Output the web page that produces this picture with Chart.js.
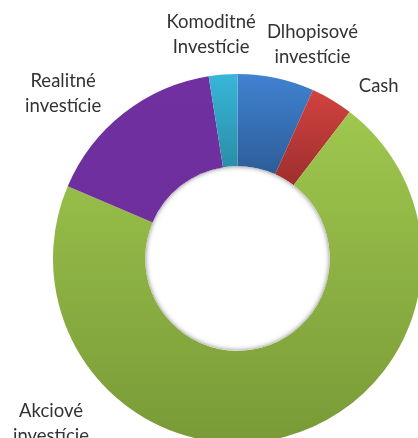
<!DOCTYPE html>
<html>
<head>
<meta charset="utf-8">
<script src="https://cdn.jsdelivr.net/npm/chart.js@4/dist/chart.umd.min.js"></script>
<style>
    html, body { margin: 0; padding: 0; background: #fff; overflow: hidden; width: 418px; height: 438px; }
    #chart { position: absolute; left: 0; top: 0; }
</style>
</head>
<body>
<canvas id="chart" width="480" height="480"></canvas>
<script>
// Portfolio split, read clockwise from 12 o'clock
const labels = [
    ['Dlhopisové', 'investície'],
    ['Cash'],
    ['Akciové', 'investície'],
    ['Realitné', 'investície'],
    ['Komoditné', 'Investície']
];
const shares = [6.7, 3.7, 71.0, 16.1, 2.5];

// light / dark ends of the vertical shading for each slice
const lightColors = ['#4182d2', '#d2423f', '#9fc74e', '#7030a0', '#38b6d9'];
const darkColors  = ['#2d5d98', '#9c2f2e', '#799a37', '#6e2f9d', '#2a8ea7'];

// label anchor: angle in degrees from 12 o'clock, distance from centre in px
const labelAngle  = [19.3, 39.3, 228.5, -46.6, -6.7];
const labelRadius = [227, 223, 249, 240, 226];

function arcYRange(arc) {
    let minY = Infinity, maxY = -Infinity;
    for (let i = 0; i <= 40; i++) {
        const a = arc.startAngle + (arc.endAngle - arc.startAngle) * i / 40;
        [arc.innerRadius, arc.outerRadius].forEach(r => {
            const y = arc.y + Math.sin(a) * r;
            minY = Math.min(minY, y);
            maxY = Math.max(maxY, y);
        });
    }
    return [minY, maxY];
}

const shadingPlugin = {
    id: 'shading',
    beforeDatasetsDraw(chart) {
        const ctx = chart.ctx;
        chart.getDatasetMeta(0).data.forEach((arc, i) => {
            const [y0, y1] = arcYRange(arc);
            const g = ctx.createLinearGradient(0, y0, 0, y1);
            g.addColorStop(0, lightColors[i]);
            g.addColorStop(1, darkColors[i]);
            arc.options.backgroundColor = g;
        });
    },
    afterDatasetsDraw(chart) {
        const ctx = chart.ctx;
        const arc = chart.getDatasetMeta(0).data[0];
        const r = arc.innerRadius;
        // soft inner shadow round the hole
        ctx.save();
        ctx.beginPath();
        ctx.arc(arc.x, arc.y, r, 0, Math.PI * 2);
        ctx.clip();
        ctx.beginPath();
        ctx.arc(arc.x, arc.y, r + 10, 0, Math.PI * 2);
        ctx.lineWidth = 20;
        ctx.strokeStyle = '#fff';
        ctx.shadowColor = 'rgba(0,0,0,0.5)';
        ctx.shadowBlur = 5;
        ctx.stroke();
        ctx.restore();
    }
};

const labelPlugin = {
    id: 'outsideLabels',
    afterDraw(chart) {
        const ctx = chart.ctx;
        const arc = chart.getDatasetMeta(0).data[0];
        ctx.save();
        ctx.font = '18.5px Lato, "Open Sans", sans-serif';
        ctx.fillStyle = '#333333';
        ctx.textAlign = 'center';
        ctx.textBaseline = 'middle';
        labels.forEach((lines, i) => {
            const a = labelAngle[i] * Math.PI / 180;
            const cx = arc.x + Math.sin(a) * labelRadius[i];
            const cy = arc.y - Math.cos(a) * labelRadius[i];
            const lh = 25;
            lines.forEach((t, j) => {
                ctx.fillText(t, cx, cy + (j - (lines.length - 1) / 2) * lh);
            });
        });
        ctx.restore();
    }
};

new Chart(document.getElementById('chart'), {
    type: 'doughnut',
    data: {
        labels: labels.map(l => l.join(' ')),
        datasets: [{
            data: shares,
            backgroundColor: lightColors,
            borderWidth: 0
        }]
    },
    options: {
        responsive: false,
        animation: false,
        cutout: '50%',
        layout: { padding: { left: 53, top: 74, right: 58, bottom: 37 } },
        plugins: {
            legend: { display: false },
            tooltip: { enabled: false }
        }
    },
    plugins: [shadingPlugin, labelPlugin]
});
</script>
</body>
</html>
